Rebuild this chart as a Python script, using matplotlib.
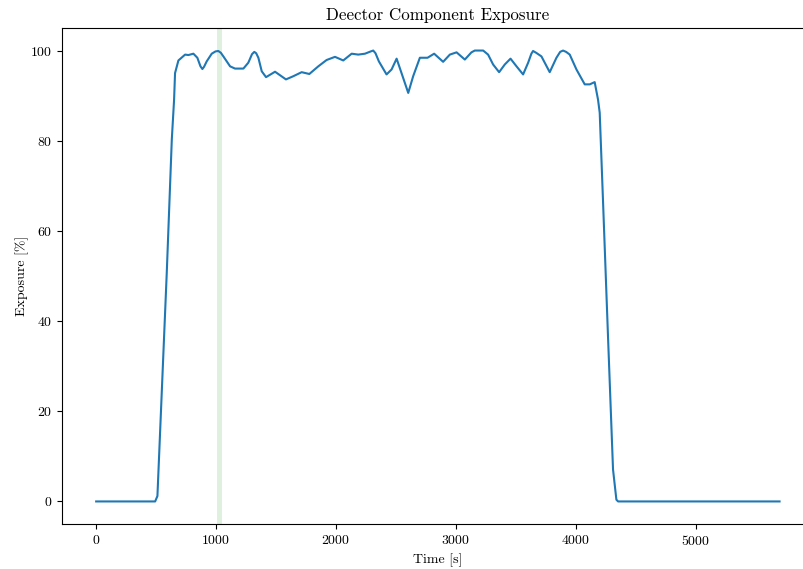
import matplotlib
matplotlib.use("Agg")
import matplotlib.pyplot as plt

plt.rcParams["font.family"] = "serif"
plt.rcParams["font.serif"] = ["cmr10"]
plt.rcParams["mathtext.fontset"] = "cm"
plt.rcParams["axes.formatter.use_mathtext"] = True

# Exposure time series (seconds, percent)
time_s = [0, 250, 492, 511, 550, 589, 631, 650, 658, 686, 742, 769, 811, 844,
          870, 886, 900, 922, 964, 995, 1019, 1040, 1061, 1117, 1158, 1228,
          1269, 1300, 1319, 1335, 1353, 1381, 1417, 1492, 1583, 1644, 1714,
          1778, 1853, 1922, 1992, 2061, 2131, 2186, 2242, 2290, 2311, 2330,
          2358, 2422, 2464, 2506, 2547, 2603, 2644, 2700, 2764, 2819, 2894,
          2950, 3006, 3075, 3130, 3158, 3228, 3269, 3311, 3361, 3408, 3456,
          3506, 3561, 3603, 3630, 3644, 3670, 3714, 3783, 3839, 3870, 3894,
          3920, 3950, 4006, 4075, 4117, 4158, 4186, 4200, 4228, 4269, 4311,
          4339, 4353, 5000, 5700]
exposure = [0, 0, 0, 1.2, 26.0, 50.8, 80.3, 89.1, 95.0, 97.8, 99.1, 99.0,
            99.3, 98.4, 96.5, 95.9, 96.4, 97.6, 99.3, 99.8, 99.9, 99.5, 98.7,
            96.5, 96.0, 96.0, 97.3, 99.2, 99.7, 99.4, 98.4, 95.4, 94.1, 95.3,
            93.6, 94.3, 95.2, 94.8, 96.5, 97.9, 98.6, 97.8, 99.3, 99.1, 99.3,
            99.8, 100.0, 99.4, 97.6, 94.7, 95.8, 98.2, 95.0, 90.6, 94.3, 98.4,
            98.4, 99.3, 97.5, 99.1, 99.6, 98.0, 99.6, 100.0, 100.0, 99.1, 96.9,
            95.2, 96.9, 98.2, 96.5, 94.7, 97.3, 99.3, 99.9, 99.5, 98.7, 95.2,
            98.4, 99.7, 100.0, 99.7, 99.1, 95.8, 92.5, 92.5, 93.0, 89.1, 86.2,
            66.3, 36.7, 7.1, 0.4, 0, 0, 0]

# Highlighted time window
window = (1010, 1050)

fig = plt.figure(figsize=(8.04, 5.69), dpi=100)
ax = fig.add_axes([0.0771, 0.0791, 0.935, 0.8717])

ax.axvspan(window[0], window[1], color="tab:green", alpha=0.15, lw=0)
ax.plot(time_s, exposure, color="tab:blue", lw=1.5)

ax.set_title("Deector Component Exposure", fontsize=12.2)
ax.set_xlabel("Time [s]", fontsize=10)
ax.set_ylabel("Exposure [%]", fontsize=10, labelpad=1)
ax.set_xticks([0, 1000, 2000, 3000, 4000, 5000])
ax.set_yticks([0, 20, 40, 60, 80, 100])

fig.savefig("out.png", dpi=100)
